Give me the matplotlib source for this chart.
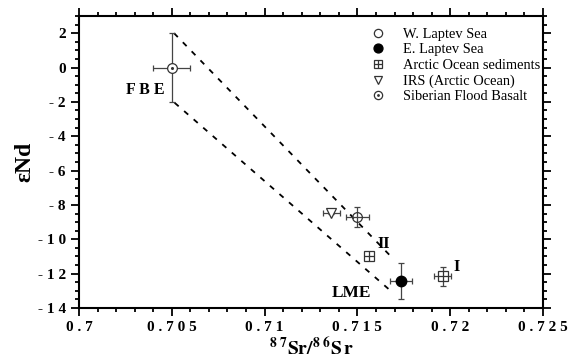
import matplotlib
matplotlib.use("Agg")
import matplotlib.pyplot as plt
from matplotlib.ticker import MultipleLocator, FixedLocator, FixedFormatter

plt.rcParams['font.family'] = ['Liberation Serif', 'DejaVu Serif']
plt.rcParams['mathtext.fontset'] = 'stix'

# Data (87Sr/86Sr, eNd, xerr, yerr)
w_laptev = dict(x=[0.7150], y=[-8.7], xerr=[0.0006], yerr=[0.6])
e_laptev = dict(x=[0.71735], y=[-12.45], xerr=[0.0006], yerr=[1.05])
sediments = dict(x=[0.7156, 0.7196], y=[-11.0, -12.15], xerr=[0.0002, 0.00045], yerr=[0.2, 0.55])
irs = dict(x=[0.7136], y=[-8.45], xerr=[0.00045], yerr=[0.1])
basalt = dict(x=[0.7050], y=[0.0], xerr=[0.0010], yerr=[2.0])

# mixing envelope lines
upper_x = [0.70512, 0.7169]
upper_y = [2.0, -11.1]
lower_x = [0.70515, 0.7169]
lower_y = [-2.05, -13.1]

labels = ["F B E", "II", "I", "LME"]
label_x = [0.7046, 0.7164, 0.7202, 0.7147]
label_y = [-1.3, -10.3, -11.6, -13.1]

xticks = [0.7, 0.705, 0.71, 0.715, 0.72, 0.725]
xticklabels = ["0 . 7", "0 . 7 0 5", "0 . 7 1", "0 . 7 1 5", "0 . 7 2", "0 . 7 2 5"]
yticks = [2, 0, -2, -4, -6, -8, -10, -12, -14]
yticklabels = ["2", "0", "- 2", "- 4", "- 6", "- 8", "- 1 0", "- 1 2", "- 1 4"]

fig = plt.figure(figsize=(5.78, 3.64), dpi=100)
ax = fig.add_axes([0.1367, 0.1538, 0.8027, 0.8022])

ax.plot(upper_x, upper_y, ls=(0, (3, 4)), color='black', lw=1.3)
ax.plot(lower_x, lower_y, ls=(0, (3, 4)), color='black', lw=1.3)

ekw = dict(ecolor='#444444', elinewidth=0.9, capsize=2.5, capthick=0.9, ls='none')

ax.errorbar(basalt['x'], basalt['y'], xerr=basalt['xerr'], yerr=basalt['yerr'], fmt='none', **ekw)
h_b1, = ax.plot(basalt['x'], basalt['y'], 'o', ms=7, mfc='white', mec='#333333', mew=0.9, ls='none')
h_b2, = ax.plot(basalt['x'], basalt['y'], 'o', ms=1.2, mfc='#333333', mec='#333333', ls='none')

ax.errorbar(w_laptev['x'], w_laptev['y'], xerr=w_laptev['xerr'], yerr=w_laptev['yerr'], fmt='none', **ekw)
h_w, = ax.plot(w_laptev['x'], w_laptev['y'], 'o', ms=7, mfc='none', mec='#333333', mew=0.9, ls='none')

ax.errorbar(e_laptev['x'], e_laptev['y'], xerr=e_laptev['xerr'], yerr=e_laptev['yerr'], fmt='none', **ekw)
h_e, = ax.plot(e_laptev['x'], e_laptev['y'], 'o', ms=7.5, mfc='black', mec='black', ls='none')

ax.errorbar(sediments['x'], sediments['y'], xerr=sediments['xerr'], yerr=sediments['yerr'], fmt='none', **ekw)
h_s1, = ax.plot(sediments['x'], sediments['y'], 's', ms=6.5, mfc='white', mec='#333333', mew=0.9, ls='none')
h_s2, = ax.plot(sediments['x'], sediments['y'], '+', ms=6.5, mec='#333333', mew=0.9, ls='none')

ax.errorbar(irs['x'], irs['y'], xerr=irs['xerr'], yerr=irs['yerr'], fmt='none', **ekw)
h_i, = ax.plot(irs['x'], irs['y'], 'v', ms=6.5, mfc='white', mec='#333333', mew=0.9, ls='none')

for t, x, y in zip(labels, label_x, label_y):
    ha = 'right' if t.startswith('F') else ('left' if t == 'I' else 'center')
    fs = 12.5 if t == 'LME' else 11.5
    ax.text(x, y, t, fontsize=fs, fontweight='bold', ha=ha, va='center')

leg = ax.legend([h_w, h_e, (h_s1, h_s2), h_i, (h_b1, h_b2)],
                ["W. Laptev Sea", "E. Laptev Sea", "Arctic Ocean sediments",
                 "IRS (Arctic Ocean)", "Siberian Flood Basalt"],
                loc='upper right', bbox_to_anchor=(1.012, 0.99), frameon=False, fontsize=10.4,
                handlelength=1.2, handletextpad=1.1, labelspacing=0.17,
                borderaxespad=0.2, markerscale=0.85)

ax.set_xlim(0.7, 0.725)
ax.set_ylim(-14, 3)
ax.xaxis.set_major_locator(FixedLocator(xticks))
ax.xaxis.set_major_formatter(FixedFormatter(xticklabels))
ax.xaxis.set_minor_locator(MultipleLocator(0.001))
ax.yaxis.set_major_locator(FixedLocator(yticks))
ax.yaxis.set_major_formatter(FixedFormatter(yticklabels))
ax.yaxis.set_minor_locator(MultipleLocator(0.5))

ax.tick_params(which='both', direction='out', top=True, right=True, width=1.3)
ax.tick_params(which='major', length=6, labelsize=11)
ax.tick_params(which='minor', length=3)
for lab in ax.get_xticklabels() + ax.get_yticklabels():
    lab.set_fontweight('bold')
for s in ax.spines.values():
    s.set_linewidth(1.5)

ax.set_xlabel(r"$\mathbf{^{8\ 7}Sr/^{8\ 6}S\,r}$", fontsize=14, labelpad=1)
ax.set_ylabel("εNd", fontsize=17, fontweight='bold', labelpad=2)

fig.savefig("out.png", dpi=100)
